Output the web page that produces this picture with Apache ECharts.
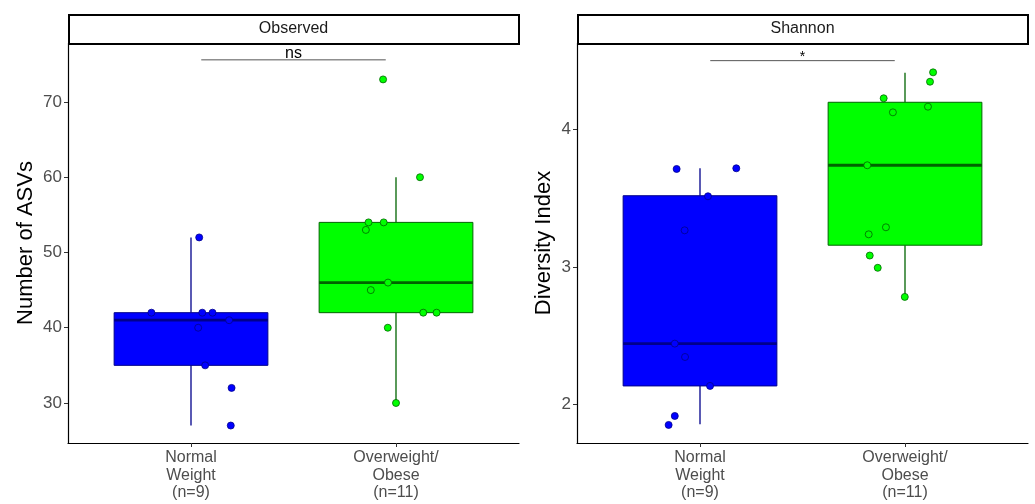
<!DOCTYPE html>
<html>
<head>
<meta charset="utf-8">
<script src="https://cdn.jsdelivr.net/npm/echarts@6/dist/echarts.min.js"></script>
<style>
html, body { margin: 0; padding: 0; background: #fff; }
#chart { width: 1035px; height: 504px; }
</style>
</head>
<body>
<div id="chart"></div>
<script>
// ---- data ----
var groups = ['Normal\nWeight\n(n=9)', 'Overweight/\nObese\n(n=11)'];
var panels = ['Observed', 'Shannon'];
var yTitles = ['Number of ASVs', 'Diversity Index'];

// [group, q1, median, q3, whiskerLow, whiskerHigh]
var observedBox = [[1, 35, 41, 42, 27, 52], [2, 42, 46, 54, 30, 60]];
var shannonBox = [[1, 2.136, 2.443, 3.516, 1.858, 3.715], [2, 3.157, 3.737, 4.194, 2.782, 4.409]];

// jittered points [x, value]
var observedNormal = [[1.04, 52], [0.807, 42], [1.055, 42], [1.105, 42], [1.186, 41],
  [1.035, 40], [1.069, 35], [1.198, 32], [1.194, 27]];
var observedObese = [[1.937, 73], [2.117, 60], [1.866, 54], [1.94, 54], [1.853, 53],
  [1.961, 46], [1.877, 45], [2.133, 42], [2.198, 42], [1.96, 40], [2.0, 30]];
var shannonNormal = [[0.886, 3.71], [1.177, 3.715], [1.039, 3.512], [0.925, 3.265], [0.877, 2.443],
  [0.927, 2.346], [1.049, 2.136], [0.877, 1.918], [0.847, 1.853]];
var shannonObese = [[2.137, 4.411], [2.122, 4.343], [1.896, 4.223], [2.112, 4.162], [1.941, 4.121],
  [1.816, 3.737], [1.907, 3.287], [1.823, 3.236], [1.828, 3.082], [1.867, 2.993], [1.999, 2.782]];

var observedTicks = [30, 40, 50, 60, 70];
var shannonTicks = [2, 3, 4];
var groupTicks = [1, 2];

// significance brackets [x1, x2, y]
var sigLabels = ['ns', '*'];
var observedSig = [[1.05, 1.95, 75.6]];
var shannonSig = [[1.05, 1.95, 4.496]];

// ---- styling ----
var fills = ['#0000FF', '#00FF00'];
var strokes = ['#00008B', '#006400'];
var grids = [
  { left: 68, right: 516, top: 43, bottom: 61 },
  { left: 577, right: 7, top: 43, bottom: 61 }
];
var yRanges = [[24.68, 77.84], [1.722, 4.624]];
var yTickSets = [observedTicks, shannonTicks];
var nameGaps = [31, 22];

var myChart = echarts.init(document.getElementById('chart'));

function renderBox(params, api) {
  var i = params.dataIndex;
  var x = api.value(0);
  var tl = api.coord([x - 0.375, api.value(3)]);
  var br = api.coord([x + 0.375, api.value(1)]);
  var med = api.coord([x, api.value(2)]);
  var lo = api.coord([x, api.value(4)]);
  var hi = api.coord([x, api.value(5)]);
  var q1 = api.coord([x, api.value(1)]);
  var q3 = api.coord([x, api.value(3)]);
  var line = { stroke: strokes[i], lineWidth: 1.3 };
  return {
    type: 'group',
    children: [
      { type: 'line', shape: { x1: hi[0], y1: hi[1], x2: q3[0], y2: q3[1] }, style: line },
      { type: 'line', shape: { x1: q1[0], y1: q1[1], x2: lo[0], y2: lo[1] }, style: line },
      { type: 'rect', shape: { x: tl[0], y: tl[1], width: br[0] - tl[0], height: br[1] - tl[1] },
        style: { fill: fills[i], stroke: strokes[i], lineWidth: 1 } },
      { type: 'line', shape: { x1: tl[0], y1: med[1], x2: br[0], y2: med[1] },
        style: { stroke: strokes[i], lineWidth: 2.8 } }
    ]
  };
}

function renderSig(label, size, lift) {
  return function (params, api) {
    var a = api.coord([api.value(0), api.value(2)]);
    var b = api.coord([api.value(1), api.value(2)]);
    return {
      type: 'group',
      children: [
        { type: 'line', shape: { x1: a[0], y1: a[1], x2: b[0], y2: a[1] },
          style: { stroke: '#555', lineWidth: 1 } },
        { type: 'text', x: (a[0] + b[0]) / 2, y: a[1] - lift,
          style: { text: label, fill: '#000', fontSize: size, fontFamily: 'Liberation Sans',
            align: 'center', verticalAlign: 'bottom' } }
      ]
    };
  };
}

var xAxes = [], yAxes = [], graphics = [];
for (var k = 0; k < 2; k++) {
  xAxes.push({
    gridIndex: k, type: 'value', min: 0.4, max: 2.6,
    splitLine: { show: false },
    axisLine: { lineStyle: { color: '#000', width: 1.2 } },
    axisTick: { customValues: groupTicks, length: 4, lineStyle: { color: '#333' } },
    axisLabel: {
      customValues: groupTicks, color: '#4D4D4D', fontSize: 16, lineHeight: 17.5,
      fontFamily: 'Liberation Sans', margin: 6,
      formatter: function (v) { return groups[Math.round(v) - 1]; }
    }
  });
  yAxes.push({
    gridIndex: k, type: 'value', min: yRanges[k][0], max: yRanges[k][1],
    name: yTitles[k], nameLocation: 'middle', nameGap: nameGaps[k],
    nameTextStyle: { color: '#000', fontSize: 22, fontFamily: 'Liberation Sans' },
    splitLine: { show: false },
    axisLine: { show: true, lineStyle: { color: '#000', width: 1.2 } },
    axisTick: { customValues: yTickSets[k], length: 4, lineStyle: { color: '#333' } },
    axisLabel: { customValues: yTickSets[k], color: '#4D4D4D', fontSize: 17,
      fontFamily: 'Liberation Sans', margin: 6 }
  });
  var g = grids[k];
  var w = 1035 - g.left - g.right;
  graphics.push({
    type: 'rect', left: g.left, top: 14,
    shape: { width: w - 1, height: 29 },
    style: { fill: '#fff', stroke: '#000', lineWidth: 2 }
  });
  graphics.push({
    type: 'text', x: g.left + w / 2, y: 29,
    style: { text: panels[k], fill: '#1a1a1a', fontSize: 16, fontFamily: 'Liberation Sans',
      align: 'center', verticalAlign: 'middle' }
  });
}

function points(data, k, idx) {
  return {
    type: 'scatter', xAxisIndex: k, yAxisIndex: k, data: data, z: 5,
    symbolSize: 7, silent: true,
    itemStyle: { color: fills[idx], borderColor: strokes[idx], borderWidth: 0.8, opacity: 1 }
  };
}

option = {
  animation: false,
  grid: grids,
  xAxis: xAxes,
  yAxis: yAxes,
  graphic: graphics,
  series: [
    { type: 'custom', xAxisIndex: 0, yAxisIndex: 0, data: observedBox, renderItem: renderBox, z: 2 },
    { type: 'custom', xAxisIndex: 1, yAxisIndex: 1, data: shannonBox, renderItem: renderBox, z: 2 },
    points(observedNormal, 0, 0),
    points(observedObese, 0, 1),
    points(shannonNormal, 1, 0),
    points(shannonObese, 1, 1),
    { type: 'custom', xAxisIndex: 0, yAxisIndex: 0, data: observedSig, renderItem: renderSig(sigLabels[0], 16, -2), z: 3 },
    { type: 'custom', xAxisIndex: 1, yAxisIndex: 1, data: shannonSig, renderItem: renderSig(sigLabels[1], 14, -3), z: 3 }
  ]
};

myChart.setOption(option, true);
</script>
</body>
</html>
